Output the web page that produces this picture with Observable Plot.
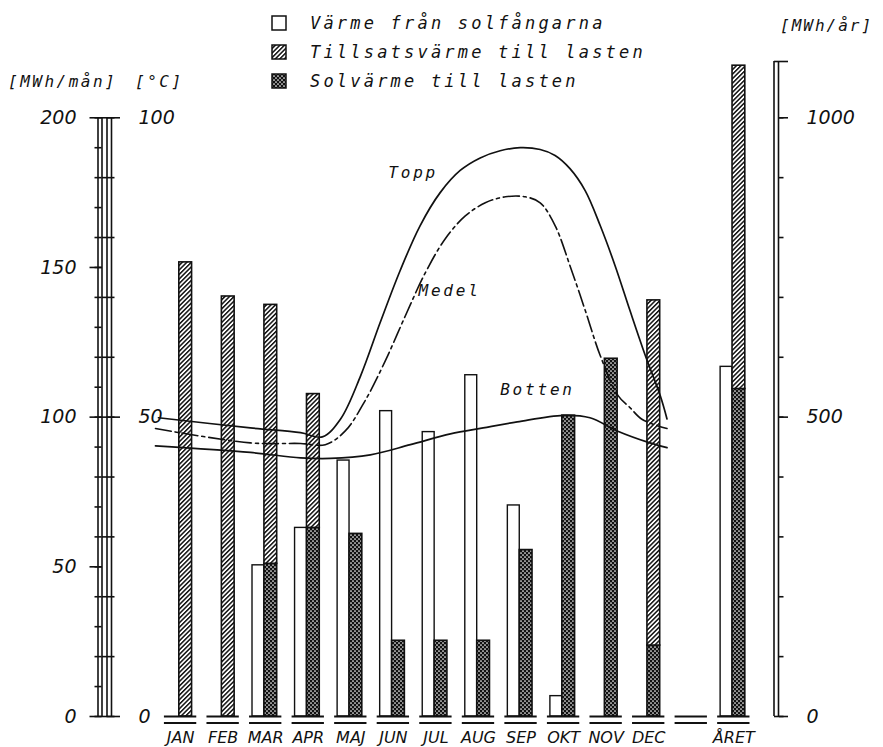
<!DOCTYPE html>
<html><head><meta charset="utf-8">
<script src="https://cdn.jsdelivr.net/npm/d3@7"></script>
<script src="https://cdn.jsdelivr.net/npm/@observablehq/plot@0.6"></script>
<style>
body{margin:0;background:#fff;}
#wrap{position:relative;width:883px;height:747px;overflow:hidden;background:#fff;}
#chart{position:absolute;left:0;top:0;}
.lab{position:absolute;font-family:"DejaVu Sans Mono",monospace;font-style:oblique;color:#111;white-space:nowrap;line-height:1;}
.row{position:absolute;left:271px;display:flex;align-items:center;height:16px;}
.row svg{margin-right:23px;}
.row span{font-family:"DejaVu Sans Mono",monospace;font-style:oblique;font-size:17px;letter-spacing:3.2px;color:#111;white-space:nowrap;line-height:1;}
</style></head><body>
<svg width="0" height="0" style="position:absolute">
<defs>
<pattern id="hatch" patternUnits="userSpaceOnUse" width="3.2" height="3.2" patternTransform="rotate(45)">
<rect width="3.2" height="3.2" fill="#fff"/><rect width="1.5" height="3.2" fill="#111"/></pattern>
<pattern id="dots" patternUnits="userSpaceOnUse" width="4" height="4">
<rect width="4" height="4" fill="#111"/><circle cx="1" cy="1" r="0.85" fill="#fff"/><circle cx="3" cy="3" r="0.85" fill="#fff"/></pattern>
</defs></svg>
<div id="wrap">
  <div id="chart"></div>
  <div id="legend"></div>
  <div class="lab" style="left:8px;top:74px;font-size:16px;letter-spacing:2.5px">[MWh/mån]</div>
  <div class="lab" style="left:135px;top:74px;font-size:16px;letter-spacing:2.5px">[°C]</div>
  <div class="lab" style="left:780px;top:18px;font-size:16px;letter-spacing:2px">[MWh/år]</div>
</div>
<script>
// ---------- DATA ----------
const months = ["JAN","FEB","MAR","APR","MAJ","JUN","JUL","AUG","SEP","OKT","NOV","DEC"];
// MWh/mån
const solfangare   = [0, 0, 50.5, 63, 85.5, 102, 95, 114, 70.5, 6.8, 0, 0];       // Värme från solfångarna
const solvarmeLast = [0, 0, 51, 63, 61, 25.3, 25.3, 25.3, 55.6, 100.5, 119.5, 23.7]; // Solvärme till lasten
const tillsats     = [151.7, 140.3, 86.5, 44.7, 0, 0, 0, 0, 0, 0, 0, 115.3];       // Tillsatsvärme till lasten
// Year totals, MWh/år
const aretLabel = "ÅRET";
const aretSolfangare = 584;
const aretSolvarme = 547;
const aretTillsats = 540;

// Temperature curves (°C) at month positions (JAN = 1 ... DEC = 12)
const toppM = [0.48, 2.64, 3.82, 4.33, 4.76, 5.23, 5.69, 6.16, 6.63, 7.10, 7.57, 8.04, 8.51, 8.98, 9.45, 9.80, 10.15, 10.51, 10.86, 11.21, 11.56, 11.92, 12.27, 12.43];
const toppC = [49.9, 48.2, 47.4, 46.7, 49.7, 56.9, 65.8, 74.5, 82.0, 87.5, 91.2, 93.3, 94.5, 95.0, 94.7, 93.7, 91.5, 87.8, 82.0, 75.3, 67.8, 60.3, 53.6, 49.7];
const medelM = [0.41, 2.64, 3.82, 4.40, 4.87, 5.34, 5.81, 6.28, 6.75, 7.22, 7.69, 8.16, 8.63, 9.10, 9.45, 9.80, 10.15, 10.51, 10.86, 11.28, 11.56, 11.85, 12.43];
const medelC = [48.1, 45.7, 45.6, 45.4, 47.7, 52.8, 59.4, 66.9, 74.1, 79.8, 83.6, 85.8, 86.8, 86.8, 85.8, 82.0, 75.3, 67.8, 60.3, 53.6, 51.6, 49.6, 48.1];
const bottenM = [0.41, 2.64, 3.82, 4.52, 5.46, 6.40, 7.34, 8.11, 8.91, 9.99, 10.62, 11.26, 12.03, 12.43];
const bottenC = [45.2, 44.1, 43.2, 43.1, 43.7, 45.4, 47.2, 48.2, 49.2, 50.3, 49.9, 47.7, 45.7, 44.9];
const curveLabels = ["Topp", "Medel", "Botten"];
const labelM = [5.88, 6.59, 8.51];
const labelC = [90.8, 71.1, 54.6];

const legendItems = ["Värme från solfångarna", "Tillsatsvärme till lasten", "Solvärme till lasten"];
const mwhTicks = [0, 50, 100, 150, 200];       // MWh/mån
const degTicks = [0, 50, 100];                 // °C
const yearTicks = [0, 500, 1000];              // MWh/år

// ---------- SCALE RELATIONS ----------
const perYear = 5;   // MWh/år per MWh/mån
const perDeg = 2;    // MWh/mån per °C
const yMax = 1094 / perYear;
const xDomain = [-0.6, 15.05];

const rows = months.map((m, k) => ({m, i: k + 1, white: solfangare[k], dark: solvarmeLast[k], hatch: tillsats[k]}));
rows.push({m: aretLabel, i: 14, white: aretSolfangare / perYear, dark: aretSolvarme / perYear, hatch: aretTillsats / perYear});
const slots = [...rows.map(r => ({m: r.m, i: r.i})), {m: "", i: 13}];
const curve = (M, C) => M.map((m, k) => ({m, v: C[k] * perDeg}));
const labels = curveLabels.map((t, k) => ({t, m: labelM[k], v: labelC[k] * perDeg}));

const ink = "#111";
const numFont = {fontFamily: "DejaVu Sans", fontStyle: "italic", fontSize: 19};
const ax = {label: null, stroke: ink, strokeWidth: 1.6};

const chart = Plot.plot({
  width: 883, height: 747,
  marginLeft: 112, marginRight: 105, marginTop: 61, marginBottom: 31,
  style: {background: "transparent", color: ink, fontFamily: "DejaVu Sans"},
  x: {type: "linear", domain: xDomain, axis: null},
  y: {domain: [0, yMax], axis: null},
  marks: [
    // left axes spines
    Plot.ruleX([xDomain[0]], {y1: 0, y2: 200, dx: -14.5, stroke: ink, strokeWidth: 1.6}),
    Plot.ruleX([xDomain[0]], {y1: 0, y2: 200, dx: -10.5, stroke: ink, strokeWidth: 1.6}),
    Plot.ruleX([xDomain[0]], {y1: 0, y2: 200, dx: -5.5, stroke: ink, strokeWidth: 1.6}),
    Plot.ruleX([xDomain[0]], {y1: 0, y2: 200, dx: -1, stroke: ink, strokeWidth: 1.6}),
    // right axis spine
    Plot.ruleX([xDomain[1]], {y1: 0, y2: yMax, dx: -4.5, stroke: ink, strokeWidth: 1.6}),
    Plot.ruleX([xDomain[1]], {y1: 0, y2: yMax, dx: 0, stroke: ink, strokeWidth: 1.6}),
    // MWh/mån ticks
    Plot.axisY(d3.range(0, 201, 10), {...ax, anchor: "left", tickSize: 7, dx: -10.5, fill: "none"}),
    Plot.axisY(mwhTicks, {...ax, anchor: "left", tickSize: 12.5, dx: -10, fill: "none"}),
    Plot.axisY(mwhTicks, {...ax, ...numFont, anchor: "left", tickSize: 0, tickPadding: 0, dx: -36, tickFormat: d => String(d), fill: ink}),
    // °C ticks
    Plot.axisY(d3.range(0, 101, 10).map(d => d * perDeg), {...ax, anchor: "left", tickSize: 12.5, dx: 2.5, fill: "none"}),
    Plot.axisY(degTicks.map(d => d * perDeg), {...ax, anchor: "left", tickSize: 13.5, dx: 8, fill: "none"}),
    Plot.axisY(degTicks.map(d => d * perDeg), {...ax, ...numFont, anchor: "left", textAnchor: "start", tickSize: 0, tickPadding: 0, dx: 26, tickFormat: d => String(d / perDeg), fill: ink}),
    // MWh/år ticks
    Plot.axisY(d3.range(0, 1001, 100).map(d => d / perYear), {...ax, anchor: "right", tickSize: 4.5, dx: 0, fill: "none"}),
    Plot.axisY(yearTicks.slice(1).map(d => d / perYear), {...ax, anchor: "right", tickSize: 9, dx: 0, fill: "none"}),
    Plot.axisY([0, yMax], {...ax, anchor: "right", tickSize: 14, dx: -5, fill: "none"}),
    Plot.axisY(yearTicks.map(d => d / perYear), {...ax, ...numFont, anchor: "right", tickSize: 0, tickPadding: 0, dx: 28, tickFormat: d => String(Math.round(d * perYear)), fill: ink}),
    // bars
    Plot.rectY(rows.filter(r => r.white > 0), {x1: r => r.i - 0.31, x2: r => r.i - 0.03, y1: 0, y2: "white", fill: "#fff", stroke: ink, strokeWidth: 1.4}),
    Plot.rectY(rows.filter(r => r.dark > 0), {x1: r => r.i - 0.03, x2: r => r.i + 0.27, y1: 0, y2: "dark", fill: "url(#dots)", stroke: ink, strokeWidth: 1.6}),
    Plot.rectY(rows.filter(r => r.hatch > 0), {x1: r => r.i - 0.03, x2: r => r.i + 0.27, y1: "dark", y2: r => r.dark + r.hatch, fill: "url(#hatch)", stroke: ink, strokeWidth: 1.6}),
    // base double lines
    Plot.ruleY(slots, {y: 0, x1: d => d.i - 0.38, x2: d => d.i + 0.38, stroke: ink, strokeWidth: 1.8}),
    Plot.ruleY(slots, {y: 0, x1: d => d.i - 0.38, x2: d => d.i + 0.38, dy: 6.5, stroke: ink, strokeWidth: 1.8}),
    // month labels
    Plot.text(slots, {x: "i", y: 0, text: "m", dy: 21, fontFamily: "DejaVu Sans", fontStyle: "italic", fontSize: 16, fill: ink}),
    // temperature curves
    Plot.line(curve(toppM, toppC), {x: "m", y: "v", curve: "catmull-rom", stroke: ink, strokeWidth: 1.7}),
    Plot.line(curve(medelM, medelC), {x: "m", y: "v", curve: "catmull-rom", stroke: ink, strokeWidth: 1.6, strokeDasharray: "16,4,3,4"}),
    Plot.line(curve(bottenM, bottenC), {x: "m", y: "v", curve: "catmull-rom", stroke: ink, strokeWidth: 1.7}),
    Plot.text(labels, {x: "m", y: "v", text: "t", textAnchor: "start", fontFamily: "DejaVu Sans Mono", fontStyle: "oblique", fontSize: 16, fill: ink})
  ]
});
d3.select(chart).selectAll("text").filter(function() { return curveLabels.includes(this.textContent); }).attr("letter-spacing", "2.8px");
document.getElementById("chart").appendChild(chart);

// legend
const fills = ["#fff", "url(#hatch)", "url(#dots)"];
const rowCenters = [23, 52, 81];
const leg = d3.select("#legend");
legendItems.forEach((t, k) => {
  const r = leg.append("div").attr("class", "row").style("top", (rowCenters[k] - 8) + "px");
  const s = r.append("svg").attr("width", 16).attr("height", 16);
  s.append("rect").attr("x", 1).attr("y", 1).attr("width", 14).attr("height", 14).attr("fill", fills[k]).attr("stroke", ink).attr("stroke-width", 1.5);
  r.append("span").text(t);
});
</script>
</body></html>
